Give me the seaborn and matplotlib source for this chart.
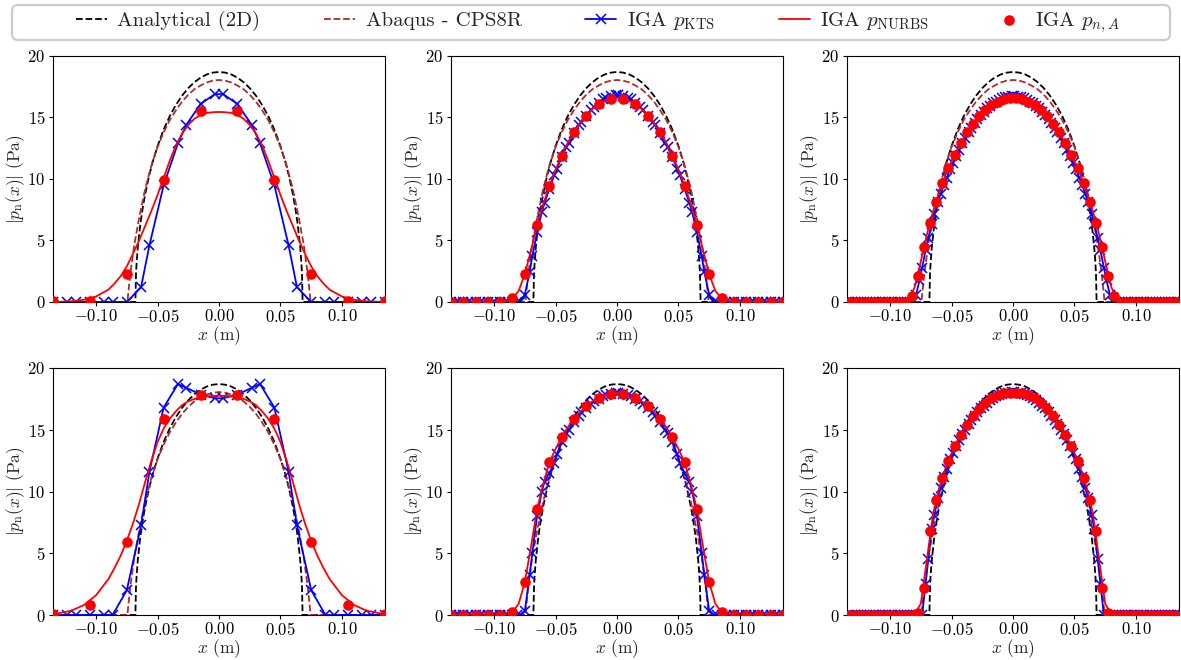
import matplotlib
matplotlib.use('Agg')
import matplotlib.pyplot as plt
from matplotlib.patches import FancyBboxPatch
import seaborn as sns

# ---- reference curves, identical in every panel ----
x_analytical = [-0.135, -0.068, -0.0675, -0.067, -0.066, -0.064, -0.062, -0.06, -0.057, -0.054, -0.05,
                -0.045, -0.04, -0.035, -0.03, -0.025, -0.02, -0.015, -0.01, -0.005, 0.0,
                0.005, 0.01, 0.015, 0.02, 0.025, 0.03, 0.035, 0.04, 0.045, 0.05, 0.054, 0.057,
                0.06, 0.062, 0.064, 0.066, 0.067, 0.0675, 0.068, 0.135]
p_analytical = [0.0, 0.0, 2.26, 3.2, 4.5, 6.32, 7.68, 8.8, 10.2, 11.37, 12.67,
                14.02, 15.12, 16.03, 16.78, 17.39, 17.87, 18.24, 18.5, 18.65, 18.7,
                18.65, 18.5, 18.24, 17.87, 17.39, 16.78, 16.03, 15.12, 14.02, 12.67, 11.37, 10.2,
                8.8, 7.68, 6.32, 4.5, 3.2, 2.26, 0.0, 0.0]

x_abaqus = [-0.135, -0.0745, -0.0735, -0.072, -0.069, -0.065, -0.06, -0.055, -0.05, -0.045, -0.04,
            -0.035, -0.03, -0.025, -0.02, -0.015, -0.01, -0.005, 0.0, 0.005, 0.01, 0.015, 0.02,
            0.025, 0.03, 0.035, 0.04, 0.045, 0.05, 0.055, 0.06, 0.065, 0.069, 0.072, 0.0735,
            0.0745, 0.135]
p_abaqus = [0.0, 0.0, 1.0, 2.4, 4.6, 6.8, 9.2, 11.1, 12.6, 13.8, 14.8,
            15.6, 16.3, 16.85, 17.3, 17.6, 17.85, 18.0, 18.05, 18.0, 17.85, 17.6, 17.3,
            16.85, 16.3, 15.6, 14.8, 13.8, 12.6, 11.1, 9.2, 6.8, 4.6, 2.4, 1.0,
            0.0, 0.0]

# ---- NURBS solution, sampled on one grid for all panels ----
x_nurbs = [-0.135, -0.12, -0.11, -0.1, -0.09, -0.085, -0.08, -0.075, -0.07, -0.065, -0.06,
           -0.055, -0.05, -0.045, -0.04, -0.035, -0.03, -0.025, -0.02, -0.015, -0.01, -0.005,
           0.0, 0.005, 0.01, 0.015, 0.02, 0.025, 0.03, 0.035, 0.04, 0.045, 0.05, 0.055,
           0.06, 0.065, 0.07, 0.075, 0.08, 0.085, 0.09, 0.1, 0.11, 0.12, 0.135]
p_nurbs_tl = [0.0, 0.06, 0.18, 0.45, 1.0, 1.5, 2.1, 2.9, 3.9, 5.0, 6.2, 7.4, 8.7, 10.1, 11.5,
              12.75, 13.7, 14.4, 14.9, 15.2, 15.37, 15.43, 15.45, 15.43, 15.37, 15.2, 14.9, 14.4,
              13.7, 12.75, 11.5, 10.1, 8.7, 7.4, 6.2, 5.0, 3.9, 2.9, 2.1, 1.5, 1.0, 0.45, 0.18,
              0.06, 0.0]
p_nurbs_tm = [0.0, 0.0, 0.0, 0.0, 0.05, 0.3, 0.9, 2.25, 4.2, 6.25, 7.95, 9.45, 10.75, 11.9, 12.95,
              13.85, 14.55, 15.15, 15.7, 16.1, 16.35, 16.5, 16.6, 16.5, 16.35, 16.1, 15.7, 15.15,
              14.55, 13.85, 12.95, 11.9, 10.75, 9.45, 7.95, 6.25, 4.2, 2.25, 0.9, 0.3, 0.05, 0.0,
              0.0, 0.0, 0.0]
p_nurbs_tr = [0.0, 0.0, 0.0, 0.0, 0.0, 0.15, 1.2, 3.3, 5.5, 7.35, 8.95, 10.3, 11.45, 12.45, 13.35,
              14.15, 14.8, 15.35, 15.8, 16.15, 16.4, 16.55, 16.6, 16.55, 16.4, 16.15, 15.8, 15.35,
              14.8, 14.15, 13.35, 12.45, 11.45, 10.3, 8.95, 7.35, 5.5, 3.3, 1.2, 0.15, 0.0, 0.0,
              0.0, 0.0, 0.0]
p_nurbs_bl = [0.05, 0.35, 0.8, 1.6, 2.9, 3.8, 4.8, 6.0, 7.4, 9.0, 10.8, 12.5, 14.0, 15.1, 15.9,
              16.5, 17.0, 17.3, 17.5, 17.6, 17.7, 17.75, 17.75, 17.75, 17.7, 17.6, 17.5, 17.3,
              17.0, 16.5, 15.9, 15.1, 14.0, 12.5, 10.8, 9.0, 7.4, 6.0, 4.8, 3.8, 2.9, 1.6, 0.8,
              0.35, 0.05]
p_nurbs_bm = [0.0, 0.0, 0.0, 0.0, 0.02, 0.25, 0.9, 2.65, 5.5, 8.55, 10.6, 12.35, 13.45, 14.4, 15.2,
              15.9, 16.45, 16.9, 17.3, 17.6, 17.8, 17.9, 18.0, 17.9, 17.8, 17.6, 17.3, 16.9,
              16.45, 15.9, 15.2, 14.4, 13.45, 12.35, 10.6, 8.55, 5.5, 2.65, 0.9, 0.25, 0.02, 0.0,
              0.0, 0.0, 0.0]
p_nurbs_br = [0.0, 0.0, 0.0, 0.0, 0.0, 0.0, 0.1, 0.9, 4.5, 8.2, 10.3, 11.85, 13.1, 14.15, 15.0,
              15.75, 16.4, 16.95, 17.4, 17.7, 17.9, 18.0, 18.05, 18.0, 17.9, 17.7, 17.4, 16.95,
              16.4, 15.75, 15.0, 14.15, 13.1, 11.85, 10.3, 8.2, 4.5, 0.9, 0.1, 0.0, 0.0, 0.0,
              0.0, 0.0, 0.0]

# ---- nodal values p_n,A at element midpoints ----
x_dots_coarse = [-0.135, -0.105, -0.075, -0.045, -0.015, 0.015, 0.045, 0.075, 0.105, 0.135]
p_dots_tl = [0.05, 0.1, 2.3, 9.9, 15.5, 15.5, 9.9, 2.3, 0.1, 0.05]
p_dots_bl = [0.05, 0.85, 5.9, 15.85, 17.85, 17.85, 15.85, 5.9, 0.85, 0.05]

x_dots_mid = [-0.135, -0.125, -0.115, -0.105, -0.095, -0.085, -0.075, -0.065, -0.055, -0.045,
              -0.035, -0.025, -0.015, -0.005, 0.005, 0.015, 0.025, 0.035, 0.045, 0.055, 0.065,
              0.075, 0.085, 0.095, 0.105, 0.115, 0.125, 0.135]
p_dots_tm = [0, 0, 0, 0, 0, 0.3, 2.25, 6.25, 9.45, 11.9, 13.85, 15.15, 16.1, 16.5,
             16.5, 16.1, 15.15, 13.85, 11.9, 9.45, 6.25, 2.25, 0.3, 0, 0, 0, 0, 0]
p_dots_bm = [0, 0, 0, 0, 0, 0.25, 2.65, 8.55, 12.35, 14.4, 15.9, 16.9, 17.6, 17.9,
             17.9, 17.6, 16.9, 15.9, 14.4, 12.35, 8.55, 2.65, 0.25, 0, 0, 0, 0, 0]

x_dots_fine = [-0.1325, -0.1275, -0.1225, -0.1175, -0.1125, -0.1075, -0.1025, -0.0975, -0.0925,
               -0.0875, -0.0825, -0.0775, -0.0725, -0.0675, -0.0625, -0.0575, -0.0525, -0.0475,
               -0.0425, -0.0375, -0.0325, -0.0275, -0.0225, -0.0175, -0.0125, -0.0075, -0.0025,
               0.0025, 0.0075, 0.0125, 0.0175, 0.0225, 0.0275, 0.0325, 0.0375, 0.0425, 0.0475,
               0.0525, 0.0575, 0.0625, 0.0675, 0.0725, 0.0775, 0.0825, 0.0875, 0.0925, 0.0975,
               0.1025, 0.1075, 0.1125, 0.1175, 0.1225, 0.1275, 0.1325]
p_dots_tr = [0, 0, 0, 0, 0, 0, 0, 0, 0, 0,
             0.45, 2.15, 4.45, 6.45, 8.15, 9.65, 10.9, 11.95, 12.9, 13.8, 14.5, 15.1, 15.6,
             16.0, 16.3, 16.5, 16.55,
             16.55, 16.5, 16.3, 16.0, 15.6, 15.1, 14.5, 13.8, 12.9, 11.95, 10.9, 9.65, 8.15,
             6.45, 4.45, 2.15, 0.45,
             0, 0, 0, 0, 0, 0, 0, 0, 0, 0]
p_dots_br = [0, 0, 0, 0, 0, 0, 0, 0, 0, 0, 0,
             0.2, 2.15, 6.8, 9.35, 11.1, 12.5, 13.65, 14.6, 15.4, 16.1, 16.7, 17.2, 17.55,
             17.8, 17.95, 18.0,
             18.0, 17.95, 17.8, 17.55, 17.2, 16.7, 16.1, 15.4, 14.6, 13.65, 12.5, 11.1, 9.35,
             6.8, 2.15, 0.2,
             0, 0, 0, 0, 0, 0, 0, 0, 0, 0, 0]

# ---- KTS values at the quadrature points ----
x_kts_coarse = [-0.135, -0.1234, -0.1166, -0.105, -0.0934, -0.0866, -0.075, -0.0634, -0.0566,
                -0.045, -0.0334, -0.0266, -0.015, -0.0034, 0.0034, 0.015, 0.0266, 0.0334,
                0.045, 0.0566, 0.0634, 0.075, 0.0866, 0.0934, 0.105, 0.1166, 0.1234, 0.135]
p_kts_tl = [0, 0, 0, 0, 0, 0, 0, 1.2, 4.6, 9.5, 12.9, 14.4, 16.1, 16.9,
            16.9, 16.1, 14.4, 12.9, 9.5, 4.6, 1.2, 0, 0, 0, 0, 0, 0, 0]
p_kts_bl = [0, 0, 0, 0, 0, 0, 2.0, 7.25, 11.6, 16.8, 18.7, 18.4, 17.85, 17.55,
            17.55, 17.85, 18.4, 18.7, 16.8, 11.6, 7.25, 2.0, 0, 0, 0, 0, 0, 0]

x_kts_mid = [-0.135, -0.1311, -0.1289, -0.125, -0.1211, -0.1189, -0.115, -0.1111, -0.1089,
             -0.105, -0.1011, -0.0989, -0.095, -0.0911, -0.0889, -0.085, -0.0811, -0.0789,
             -0.075, -0.0711, -0.0689, -0.065, -0.0611, -0.0589, -0.055, -0.0511, -0.0489,
             -0.045, -0.0411, -0.0389, -0.035, -0.0311, -0.0289, -0.025, -0.0211, -0.0189,
             -0.015, -0.0111, -0.0089, -0.005, -0.0011,
             0.0011, 0.005, 0.0089, 0.0111, 0.015, 0.0189, 0.0211, 0.025, 0.0289, 0.0311,
             0.035, 0.0389, 0.0411, 0.045, 0.0489, 0.0511, 0.055, 0.0589, 0.0611, 0.065,
             0.0689, 0.0711, 0.075, 0.0789, 0.0811, 0.085, 0.0889, 0.0911, 0.095, 0.0989,
             0.1011, 0.105, 0.1089, 0.1111, 0.115, 0.1189, 0.1211, 0.125, 0.1289, 0.1311, 0.135]
p_kts_tm = [0, 0, 0, 0, 0, 0, 0, 0, 0, 0, 0, 0, 0, 0, 0, 0, 0, 0,
            0.6, 2.4, 3.7, 5.7, 7.3, 8.05, 9.2, 10.3, 10.85, 11.75, 12.6, 12.95, 13.7, 14.35,
            14.65, 15.15, 15.65, 15.85, 16.2, 16.5, 16.6, 16.75, 16.8,
            16.8, 16.75, 16.6, 16.5, 16.2, 15.85, 15.65, 15.15, 14.65, 14.35, 13.7, 12.95,
            12.6, 11.75, 10.85, 10.3, 9.2, 8.05, 7.3, 5.7, 3.7, 2.4, 0.6,
            0, 0, 0, 0, 0, 0, 0, 0, 0, 0, 0, 0, 0, 0, 0, 0, 0, 0]
p_kts_bm = [0, 0, 0, 0, 0, 0, 0, 0, 0, 0, 0, 0, 0, 0, 0, 0, 0, 0,
            0.3, 3.2, 5.0, 8.0, 10.0, 10.8, 11.5, 12.3, 13.0, 14.0, 14.7, 15.0, 15.6, 16.1,
            16.4, 16.8, 17.1, 17.3, 17.5, 17.7, 17.8, 17.9, 18.0,
            18.0, 17.9, 17.8, 17.7, 17.5, 17.3, 17.1, 16.8, 16.4, 16.1, 15.6, 15.0,
            14.7, 14.0, 13.0, 12.3, 11.5, 10.8, 10.0, 8.0, 5.0, 3.2, 0.3,
            0, 0, 0, 0, 0, 0, 0, 0, 0, 0, 0, 0, 0, 0, 0, 0, 0, 0]

x_kts_fine = [-0.1339, -0.1311, -0.1289, -0.1261, -0.1239, -0.1211, -0.1189, -0.1161, -0.1139,
              -0.1111, -0.1089, -0.1061, -0.1039, -0.1011, -0.0989, -0.0961, -0.0939, -0.0911,
              -0.0889, -0.0861, -0.0839, -0.0811, -0.0789, -0.0761, -0.0739, -0.0711, -0.0689,
              -0.0661, -0.0639, -0.0611, -0.0589, -0.0561, -0.0539, -0.0511, -0.0489, -0.0461,
              -0.0439, -0.0411, -0.0389, -0.0361, -0.0339, -0.0311, -0.0289, -0.0261, -0.0239,
              -0.0211, -0.0189, -0.0161, -0.0139, -0.0111, -0.0089, -0.0061, -0.0039, -0.0011,
              0.0011, 0.0039, 0.0061, 0.0089, 0.0111, 0.0139, 0.0161, 0.0189, 0.0211, 0.0239,
              0.0261, 0.0289, 0.0311, 0.0339, 0.0361, 0.0389, 0.0411, 0.0439, 0.0461, 0.0489,
              0.0511, 0.0539, 0.0561, 0.0589, 0.0611, 0.0639, 0.0661, 0.0689, 0.0711, 0.0739,
              0.0761, 0.0789, 0.0811, 0.0839, 0.0861, 0.0889, 0.0911, 0.0939, 0.0961, 0.0989,
              0.1011, 0.1039, 0.1061, 0.1089, 0.1111, 0.1139, 0.1161, 0.1189, 0.1211, 0.1239,
              0.1261, 0.1289, 0.1311, 0.1339]
p_kts_tr = [0, 0, 0, 0, 0, 0, 0, 0, 0, 0, 0,
            0, 0, 0, 0, 0, 0, 0, 0, 0, 0, 0,
            0.55, 1.75, 2.8, 4.2, 5.2, 6.35, 7.15, 8.1, 8.75, 9.55, 10.1, 10.8, 11.3, 11.9,
            12.35, 12.9, 13.3, 13.8, 14.15, 14.55, 14.85, 15.2, 15.45, 15.75, 15.95, 16.15,
            16.3, 16.45, 16.55, 16.65, 16.7, 16.75,
            16.75, 16.7, 16.65, 16.55, 16.45, 16.3, 16.15, 15.95, 15.75, 15.45, 15.2, 14.85,
            14.55, 14.15, 13.8, 13.3, 12.9, 12.35, 11.9, 11.3, 10.8, 10.1, 9.55, 8.75, 8.1,
            7.15, 6.35, 5.2, 4.2, 2.8, 1.75, 0.55,
            0, 0, 0, 0, 0, 0, 0, 0, 0, 0, 0,
            0, 0, 0, 0, 0, 0, 0, 0, 0, 0, 0]
p_kts_br = [0, 0, 0, 0, 0, 0, 0, 0, 0, 0, 0,
            0, 0, 0, 0, 0, 0, 0, 0, 0, 0, 0, 0, 0, 0,
            2.5, 4.5, 7.0, 8.1, 9.5, 10.25, 11.2, 11.8, 12.6, 13.1, 13.7, 14.15, 14.65, 15.0,
            15.45, 15.75, 16.15, 16.4, 16.75, 16.95, 17.2, 17.4, 17.55, 17.7, 17.8, 17.9,
            17.95, 18.0, 18.05,
            18.05, 18.0, 17.95, 17.9, 17.8, 17.7, 17.55, 17.4, 17.2, 16.95, 16.75, 16.4,
            16.15, 15.75, 15.45, 15.0, 14.65, 14.15, 13.7, 13.1, 12.6, 11.8, 11.2, 10.25, 9.5,
            8.1, 7.0, 4.5, 2.5,
            0, 0, 0, 0, 0, 0, 0, 0, 0, 0, 0,
            0, 0, 0, 0, 0, 0, 0, 0, 0, 0, 0, 0, 0, 0]

panels = [
    (0, 0, x_kts_coarse, p_kts_tl, p_nurbs_tl, x_dots_coarse, p_dots_tl),
    (0, 1, x_kts_mid, p_kts_tm, p_nurbs_tm, x_dots_mid, p_dots_tm),
    (0, 2, x_kts_fine, p_kts_tr, p_nurbs_tr, x_dots_fine, p_dots_tr),
    (1, 0, x_kts_coarse, p_kts_bl, p_nurbs_bl, x_dots_coarse, p_dots_bl),
    (1, 1, x_kts_mid, p_kts_bm, p_nurbs_bm, x_dots_mid, p_dots_bm),
    (1, 2, x_kts_fine, p_kts_br, p_nurbs_br, x_dots_fine, p_dots_br),
]

sns.set_theme(style='ticks', rc={
    'axes.edgecolor': 'black',
    'axes.linewidth': 0.8,
    'xtick.major.size': 3,
    'ytick.major.size': 3,
    'xtick.major.pad': 1.5,
    'ytick.major.pad': 2.5,
    'xtick.major.width': 0.8,
    'ytick.major.width': 0.8,
    'xtick.color': 'black',
    'ytick.color': 'black',
    'xtick.labelsize': 12,
    'ytick.labelsize': 12,
    'axes.labelsize': 12.5,
    'legend.fontsize': 15,
})
plt.rcParams['font.family'] = 'serif'
plt.rcParams['font.serif'] = ['cmr10', 'DejaVu Serif']
plt.rcParams['mathtext.fontset'] = 'cm'
plt.rcParams['axes.formatter.use_mathtext'] = True
plt.rcParams['axes.unicode_minus'] = True

W, H = 1181, 660
fig = plt.figure(figsize=(W / 100, H / 100), dpi=100)

col_left = [53, 451, 847]
row_span = [(56, 302), (368, 615)]
panel_w = 332

axes = []
for row, col, xk, pk, pn, xd, pd in panels:
    top, bot = row_span[row]
    ax = fig.add_axes([col_left[col] / W, 1 - bot / H, panel_w / W, (bot - top) / H])
    sns.lineplot(x=x_analytical, y=p_analytical, color='black', linestyle='--', linewidth=1.3,
                 estimator=None, sort=False, ax=ax, label='Analytical (2D)', legend=False)
    sns.lineplot(x=x_abaqus, y=p_abaqus, color='#b22b2b', linestyle='--', linewidth=1.3,
                 estimator=None, sort=False, ax=ax, label='Abaqus - CPS8R', legend=False)
    sns.lineplot(x=xk, y=pk, color='blue', linewidth=1.3, marker='x', markersize=7.5,
                 markeredgecolor='blue', markeredgewidth=1.1,
                 estimator=None, sort=False, ax=ax, label=r'IGA $p_{\mathrm{KTS}}$', legend=False)
    sns.lineplot(x=x_nurbs, y=pn, color='red', linewidth=1.3,
                 estimator=None, sort=False, ax=ax, label=r'IGA $p_{\mathrm{NURBS}}$', legend=False)
    sns.scatterplot(x=xd, y=pd, color='red', s=58, linewidth=0, zorder=5,
                    ax=ax, label=r'IGA $p_{n,A}$', legend=False)
    ax.set_xlim(-0.135, 0.135)
    ax.set_ylim(0, 20)
    ax.set_xticks([-0.1, -0.05, 0.0, 0.05, 0.1])
    ax.set_yticks([0, 5, 10, 15, 20])
    ax.set_xlabel(r'$x$ (m)', labelpad=-1)
    ax.set_ylabel(r'$|p_{\mathrm{n}}(x)|$ (Pa)', labelpad=0)
    axes.append(ax)

handles, labels = axes[0].get_legend_handles_labels()
fig.legend(handles, labels, loc='center', bbox_to_anchor=(0.057, 0.94, 0.898, 0.053),
           mode='expand', ncol=5, frameon=False, handlelength=1.5, handletextpad=0.5,
           borderaxespad=0, scatterpoints=1)
frame = FancyBboxPatch((0.12, (H - 40) / 100), 11.58, 0.35,
                       boxstyle='round,pad=0,rounding_size=0.06',
                       transform=fig.dpi_scale_trans, facecolor='white',
                       edgecolor='0.8', linewidth=1.6, zorder=0)
fig.add_artist(frame)

fig.savefig('out.png', dpi=100)
